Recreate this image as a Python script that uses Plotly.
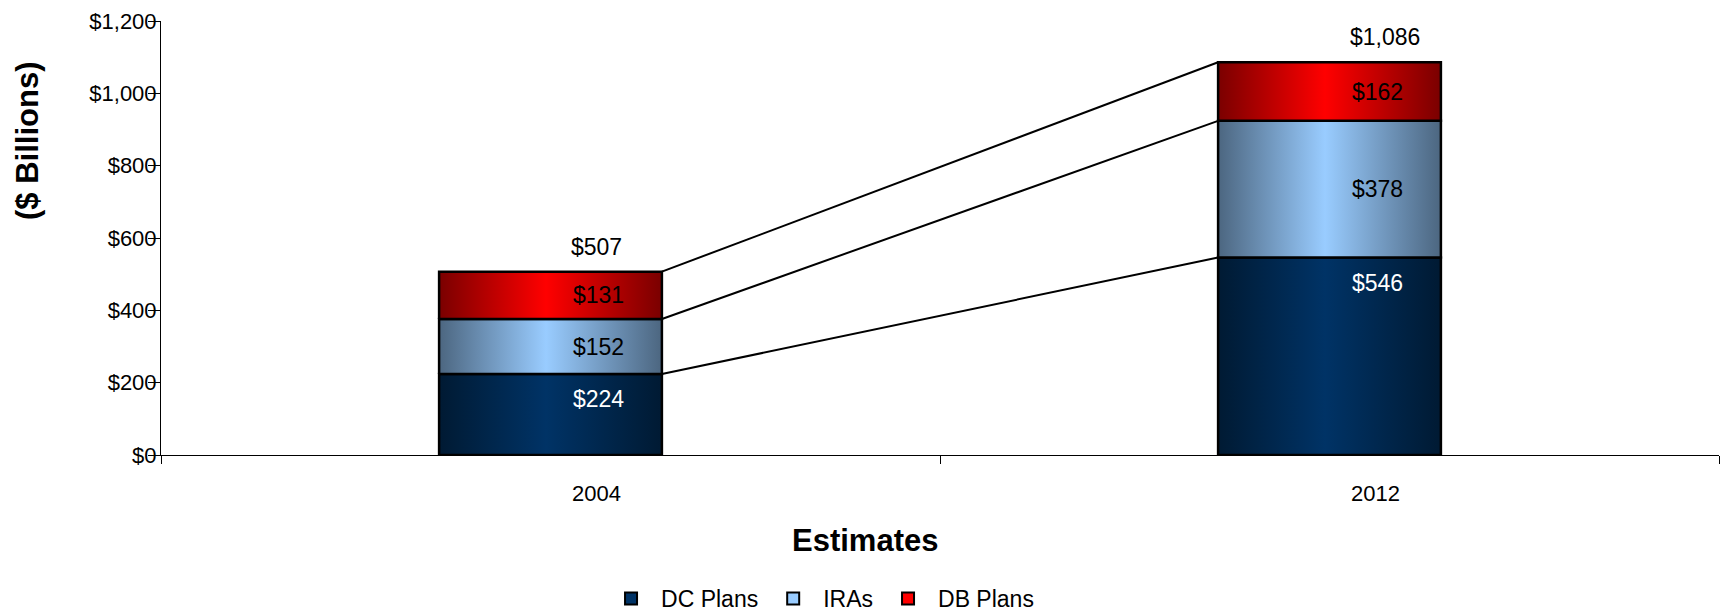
import plotly.graph_objects as go

years = ["2004", "2012"]
series_names = ["DC Plans", "IRAs", "DB Plans"]
dc_plans = [224, 546]
iras = [152, 378]
db_plans = [131, 162]
totals = [507, 1086]
y_ticks = [0, 200, 400, 600, 800, 1000, 1200]
y_tick_labels = ["$0", "$200", "$400", "$600", "$800", "$1,000", "$1,200"]

series_values = [dc_plans, iras, db_plans]
light_colors = ["#003366", "#99ccff", "#ff0000"]
dark_colors = ["#001a33", "#4c6680", "#7a0000"]
text_colors = ["white", "black", "black"]

FONT = "Liberation Sans, Arial, sans-serif"
bar_width = 0.286
positions = [0.5 + i for i in range(len(years))]
plot_w = 1724 - 161 - 5
label_off = 46 / plot_w * 2  # shift of year labels in data units

fig = go.Figure()

cum = [0] * len(years)
tops = []
for s, vals in enumerate(series_values):
    seg_tops = []
    for i, v in enumerate(vals):
        b = cum[i]
        t = b + v
        x0 = positions[i] - bar_width / 2
        x1 = positions[i] + bar_width / 2
        fig.add_trace(go.Scatter(
            x=[x0, x1, x1, x0, x0], y=[b, b, t, t, b],
            mode="lines", fill="toself",
            line=dict(color="black", width=2.5),
            fillgradient=dict(type="horizontal",
                              colorscale=[[0, dark_colors[s]], [0.48, light_colors[s]], [1, dark_colors[s]]]),
            showlegend=False, hoverinfo="skip"))
        cum[i] = t
        seg_tops.append(t)
    tops.append(seg_tops)

for seg_tops in tops:
    fig.add_trace(go.Scatter(
        x=[positions[0] + bar_width / 2, positions[1] - bar_width / 2],
        y=[seg_tops[0], seg_tops[1]], mode="lines",
        line=dict(color="black", width=2), showlegend=False, hoverinfo="skip"))

for s, name in enumerate(series_names):
    fig.add_trace(go.Bar(x=[None], y=[None], name=name,
                         marker=dict(color=light_colors[s], line=dict(color="black", width=2))))

annotations = []
cum = [0] * len(years)
for s, vals in enumerate(series_values):
    for i, v in enumerate(vals):
        b = cum[i]
        t = b + v
        if s == 0:
            y, ys = t, -25
        else:
            y, ys = (b + t) / 2, 0
        annotations.append(dict(x=positions[i], y=y, xref="x", yref="y", text=f"${v:,}",
                                showarrow=False, xanchor="left", yanchor="middle",
                                xshift=20, yshift=ys,
                                font=dict(family=FONT, size=23, color=text_colors[s])))
        cum[i] = t
for i, tot in enumerate(totals):
    annotations.append(dict(x=positions[i], y=tot, xref="x", yref="y", text=f"${tot:,}",
                            showarrow=False, xanchor="left", yanchor="middle",
                            xshift=18, yshift=25,
                            font=dict(family=FONT, size=23, color="black")))

annotations.append(dict(text="<b>($ Billions)</b>", xref="paper", yref="paper", x=0, y=0.7235,
                        xanchor="center", yanchor="middle", xshift=-134, textangle=-90,
                        showarrow=False, font=dict(family=FONT, size=31, color="black")))
annotations.append(dict(text="<b>Estimates</b>", xref="paper", yref="paper", x=0.452, y=0,
                        xanchor="center", yanchor="middle", yshift=-85,
                        showarrow=False, font=dict(family=FONT, size=31, color="black")))

fig.update_layout(
    width=1724, height=612,
    margin=dict(l=161, r=5, t=21, b=157),
    plot_bgcolor="white", paper_bgcolor="white",
    font=dict(family=FONT, size=22, color="black"),
    annotations=annotations,
    showlegend=True,
    legend=dict(orientation="h", x=0.423, xanchor="center", yref="container", y=0.022,
                yanchor="middle", itemwidth=50,
                font=dict(family=FONT, size=23, color="black")),
    xaxis=dict(range=[0, 2], showline=True, linecolor="black", linewidth=1,
               showgrid=False, zeroline=False,
               tickvals=[p + label_off for p in positions], ticktext=years,
               ticks="", ticklabelstandoff=19,
               minor=dict(tickvals=[0, 1, 2], ticks="outside", ticklen=8, tickcolor="black", showgrid=False)),
    yaxis=dict(range=[0, 1200], tickvals=y_ticks, ticktext=y_tick_labels,
               showline=True, linecolor="black", linewidth=1, showgrid=False, zeroline=False,
               ticks="outside", ticklen=12, tickcolor="black", ticklabelstandoff=-13),
)

fig.write_html("out.html")
